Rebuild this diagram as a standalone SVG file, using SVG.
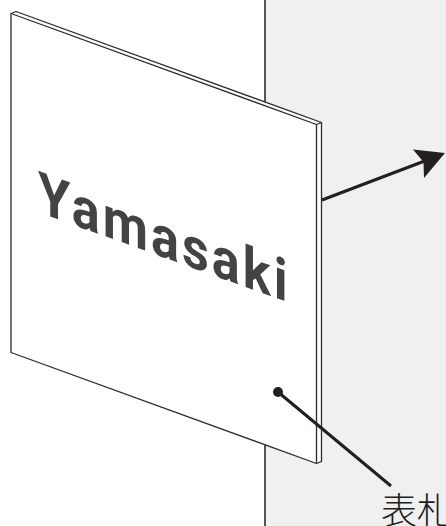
<svg xmlns="http://www.w3.org/2000/svg" width="446" height="526" viewBox="0 0 446 526">
<style>
.plate{fill:#fff;stroke:#2e2a2b;stroke-width:1.3;stroke-linejoin:round}
.conn{fill:none;stroke:#231f20;stroke-width:3}
.ink{fill:#231f20}
</style>
<rect width="446" height="526" fill="#fff"/>
<g id="wall">
<rect x="265" y="0" width="181" height="526" fill="#f0f0f0"/>
<path d="M265 0V526" fill="none" stroke="#2e2a2b" stroke-width="1.6"/>
</g>
<g id="plate">
<path class="plate" d="M11 13.500L16 11.500L321.500 122.500V461.500L316.500 463.500L11 352.500Z"/>
<path class="plate" d="M11 13.500L316.500 124.500V463.500M316.500 124.500L321.500 122.500"/>
<text transform="matrix(0.9 0.325 0 1 38 212)" font-family="Roboto, 'Liberation Sans', sans-serif" font-weight="700" font-size="58" letter-spacing="3.4" fill="#434343">Yamasaki</text>
</g>
<g id="connectors">
<path class="conn" d="M322 200L426 160.500"/>
<path class="ink" d="M445 153L413 149.500L423.500 162L424 178Z"/>
<circle class="ink" cx="278" cy="392" r="5"/>
<path class="conn" d="M278 392L391 486"/>
</g>
<g id="label">
<text x="381" y="524" font-family="'Noto Sans CJK JP', sans-serif" font-weight="300" font-size="36" fill="#231f20">表札</text>
</g>
</svg>
